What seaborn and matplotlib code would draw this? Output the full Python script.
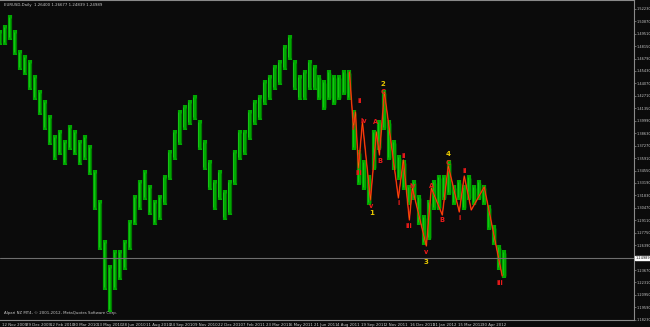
import numpy as np
import pandas as pd
import matplotlib
matplotlib.use("Agg")
import matplotlib.pyplot as plt
import seaborn as sns

# ---------------- data ----------------
title_text = "EURUSD,Daily  1.26400 1.26677 1.24839 1.24989"
footer_text = "Alpari NZ MT4, \u00a9 2001-2012, MetaQuotes Software Corp."
last_price = 1.24989

# price range of each group of daily bars (about 6 bars per group)
bar_high = [1.4991, 1.5046, 1.5155, 1.4991, 1.4772, 1.4718, 1.4663, 1.4499, 1.4335, 1.4226,
            1.4062, 1.3843, 1.3898, 1.3789, 1.3953, 1.3898, 1.3789, 1.3843, 1.3734, 1.3461,
            1.3133, 1.2696, 1.2423, 1.2586, 1.2586, 1.2696, 1.2914, 1.3188, 1.3352, 1.3461,
            1.3297, 1.3133, 1.3188, 1.3406, 1.3679, 1.3898, 1.4117, 1.4171, 1.4226, 1.4281,
            1.4007, 1.3789, 1.3570, 1.3352, 1.3461, 1.3242, 1.3352, 1.3679, 1.3898, 1.3898,
            1.4117, 1.4226, 1.4281, 1.4445, 1.4499, 1.4609, 1.4663, 1.4827, 1.4936, 1.4663,
            1.4499, 1.4554, 1.4663, 1.4609, 1.4499, 1.4445, 1.4554, 1.4499, 1.4499, 1.4554,
            1.4554, 1.4117, 1.3679, 1.3570, 1.3406, 1.3898, 1.4007, 1.4335, 1.4007, 1.3789,
            1.3625, 1.3570, 1.3297, 1.3352, 1.3188, 1.2969, 1.3133, 1.3352, 1.3406, 1.3406,
            1.3570, 1.3297, 1.3352, 1.3297, 1.3406, 1.3297, 1.3352, 1.3297, 1.3078, 1.2860,
            1.2641, 1.2586]
bar_low = [1.4827, 1.4827, 1.4882, 1.4718, 1.4554, 1.4499, 1.4335, 1.4226, 1.4062, 1.3898,
           1.3734, 1.3570, 1.3625, 1.3516, 1.3679, 1.3625, 1.3516, 1.3570, 1.3406, 1.3024,
           1.2586, 1.2149, 1.1909, 1.2149, 1.2259, 1.2368, 1.2586, 1.2860, 1.3024, 1.3133,
           1.2969, 1.2860, 1.2914, 1.3078, 1.3352, 1.3570, 1.3734, 1.3898, 1.3953, 1.4007,
           1.3679, 1.3461, 1.3242, 1.3024, 1.3133, 1.2914, 1.2969, 1.3297, 1.3570, 1.3625,
           1.3789, 1.3953, 1.4007, 1.4171, 1.4226, 1.4335, 1.4390, 1.4554, 1.4663, 1.4335,
           1.4226, 1.4226, 1.4335, 1.4335, 1.4226, 1.4117, 1.4226, 1.4171, 1.4226, 1.4281,
           1.4226, 1.3679, 1.3297, 1.3242, 1.3078, 1.3461, 1.3679, 1.3898, 1.3570, 1.3461,
           1.3352, 1.3242, 1.3078, 1.3133, 1.2860, 1.2641, 1.2696, 1.3024, 1.3024, 1.3133,
           1.3188, 1.3078, 1.3133, 1.3024, 1.3133, 1.3078, 1.3133, 1.3078, 1.2805, 1.2641,
           1.2368, 1.2280]

# Elliott-wave zigzag (bar-group index, price)
zz_x = [70.0, 70.8, 71.2, 71.8, 72.6, 74.2, 75.4, 76.0, 77.0, 79.8, 80.8, 82.0, 82.6,
        85.4, 86.4, 88.6, 89.8, 92.0, 93.0, 94.4, 97.0, 100.6]
zz_y = [1.4532, 1.3920, 1.4095, 1.3483, 1.3986, 1.3133, 1.3876, 1.3625, 1.4313, 1.3155,
        1.3570, 1.2914, 1.3264, 1.2630, 1.3264, 1.2969, 1.3505, 1.3002, 1.3395, 1.3024,
        1.3275, 1.2302]

# wave labels
wave_text = ["ii", "i", "iv", "A", "iii", "B", "v", "1", "2", "C",
             "ii", "i", "iv", "iii", "v", "3", "A", "B", "4", "C",
             "ii", "i", "iii"]
wave_x = [72.0, 70.6, 72.8, 75.2, 71.8, 76.0, 74.4, 74.4, 76.6, 76.8,
          80.8, 79.8, 82.6, 82.0, 85.4, 85.4, 86.4, 88.6, 89.8, 89.8,
          93.0, 92.0, 100.2]
wave_y = [1.4215, 1.3920, 1.3997, 1.3986, 1.3428, 1.3559, 1.3067, 1.2990, 1.4401, 1.4313,
          1.3614, 1.3100, 1.3286, 1.2848, 1.2564, 1.2455, 1.3286, 1.2914, 1.3636, 1.3537,
          1.3450, 1.2936, 1.2226]
wave_kind = ["sub", "sub", "sub", "sub", "sub", "sub", "sub", "main", "main", "sub",
             "sub", "sub", "sub", "sub", "sub", "main", "sub", "sub", "main", "sub",
             "sub", "sub", "sub"]

date_labels = ["12 Nov 2009", "29 Dec 2009", "12 Feb 2010", "30 Mar 2010", "13 May 2010",
               "28 Jun 2010", "11 Aug 2010", "24 Sep 2010", "9 Nov 2010", "22 Dec 2010",
               "7 Feb 2011", "23 Mar 2011", "6 May 2011", "21 Jun 2011", "4 Aug 2011",
               "19 Sep 2011", "2 Nov 2011", "16 Dec 2011", "31 Jan 2012", "15 Mar 2012",
               "30 Apr 2012"]
date_pos = [0.4, 5.2, 10.0, 14.6, 19.4, 24.4, 29.2, 34.0, 39.0, 43.6, 48.6, 53.2, 58.0,
            62.8, 67.6, 72.4, 77.2, 82.2, 86.8, 91.8, 96.6]

price_ticks = [1.52230, 1.50870, 1.49510, 1.48150, 1.46790, 1.45430, 1.44070, 1.42710,
               1.41350, 1.39990, 1.38630, 1.37270, 1.35910, 1.34550, 1.33190, 1.31830,
               1.30470, 1.29110, 1.27750, 1.26390, 1.25030, 1.23670, 1.22310, 1.20950,
               1.19590, 1.18230]

# ---------------- style ----------------
BG = "#0b0b0b"
FG = "#c8c8c8"
AXC = "#8a8a8a"
GREEN = "#00a800"
RED = "#ee1a1a"
YEL = "#e8c800"
FS = 2.8
FSY = 2.5

sns.set_theme(style="dark", rc={"axes.facecolor": BG, "figure.facecolor": BG,
                                "axes.edgecolor": AXC, "grid.color": BG})
plt.rcParams["font.family"] = ["DejaVu Sans"]

fig = plt.figure(figsize=(6.5, 3.27), dpi=100)
ax = fig.add_axes([0.0, 7 / 327, 634 / 650, 320 / 327])
ax.set_facecolor(BG)

df = pd.DataFrame({"x": np.arange(len(bar_high)), "high": bar_high, "low": bar_low})
ax.vlines(df["x"], df["low"], df["high"], color=GREEN, lw=3.0)
ax.vlines(df["x"] - 0.25, df["low"] + 0.003, df["high"] - 0.002, color="#1fd01f", lw=0.5)
ax.vlines(df["x"] + 0.3, df["low"] + 0.002, df["high"] - 0.003, color="#006400", lw=0.5)

zz = pd.DataFrame({"x": zz_x, "y": zz_y})
sns.lineplot(data=zz, x="x", y="y", ax=ax, color="#d01010", lw=1.1, sort=False, estimator=None)
sns.lineplot(data=zz, x="x", y="y", ax=ax, color="#ff6a00", lw=0.4, sort=False, estimator=None)

for t, xx, yy, k in zip(wave_text, wave_x, wave_y, wave_kind):
    ax.text(xx, yy, t, color=YEL if k == "main" else RED,
            fontsize=5.0 if k == "main" else 4.8,
            ha="center", va="center", fontweight="bold")

# current price line and box
ax.axhline(last_price, color="#6e6e6e", lw=0.8)

ax.set_xlim(0, 127)
ax.set_ylim(1.1821, 1.5319)

ax.yaxis.tick_right()
ax.set_yticks(price_ticks)
ax.set_yticklabels([f"{v:.5f}" for v in price_ticks])
ax.set_xticks(date_pos)
ax.set_xticklabels(date_labels)
ax.tick_params(axis="both", colors=AXC, labelcolor=FG, labelsize=FS, length=1.5,
               width=0.5, pad=0.6)
ax.tick_params(axis="y", labelsize=FSY, pad=0.4, length=1.2)
for lab in ax.get_xticklabels():
    lab.set_ha("left")
ax.set_xlabel("")
ax.set_ylabel("")
ax.grid(False)
for s in ax.spines.values():
    s.set_color(AXC)
    s.set_linewidth(0.8)
ax.spines["left"].set_visible(False)

# hide tick label under price box
for lab, v in zip(ax.get_yticklabels(), price_ticks):
    if abs(v - last_price) < 0.004:
        lab.set_visible(False)

ax.text(1.003, last_price, f"{last_price:.5f}", transform=ax.get_yaxis_transform(),
        fontsize=FSY, color="black", va="center", ha="left",
        bbox=dict(boxstyle="square,pad=0.12", fc="white", ec="white"), clip_on=False)

fig.text(4 / 650, 1 - 5 / 327, title_text, color=FG, fontsize=FS, va="center", ha="left")
fig.text(4 / 650, 1 - 313 / 327, footer_text, color=FG, fontsize=FS, va="center", ha="left")

fig.savefig("out.png", dpi=100, facecolor=BG)
